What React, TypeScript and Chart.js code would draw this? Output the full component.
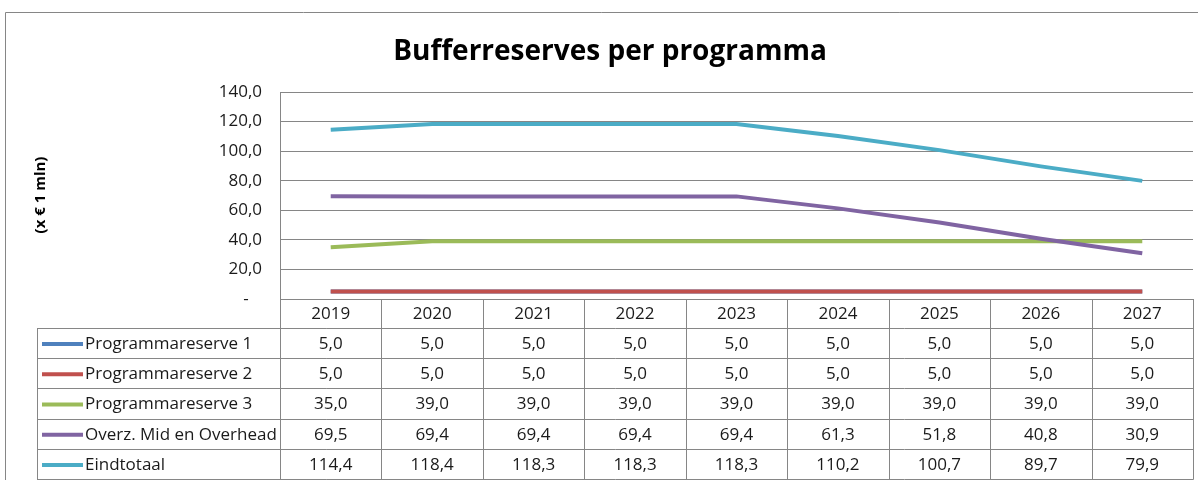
import React, { useEffect, useRef } from "react";
import { Chart, registerables } from "chart.js";

Chart.register(...registerables);

const categories = ["2019", "2020", "2021", "2022", "2023", "2024", "2025", "2026", "2027"];
const programmareserve1 = [5.0, 5.0, 5.0, 5.0, 5.0, 5.0, 5.0, 5.0, 5.0];
const programmareserve2 = [5.0, 5.0, 5.0, 5.0, 5.0, 5.0, 5.0, 5.0, 5.0];
const programmareserve3 = [35.0, 39.0, 39.0, 39.0, 39.0, 39.0, 39.0, 39.0, 39.0];
const overzMidOverhead = [69.5, 69.4, 69.4, 69.4, 69.4, 61.3, 51.8, 40.8, 30.9];
const eindtotaal = [114.4, 118.4, 118.3, 118.3, 118.3, 110.2, 100.7, 89.7, 79.9];

const seriesNames = [
  "Programmareserve 1",
  "Programmareserve 2",
  "Programmareserve 3",
  "Overz. Mid en Overhead",
  "Eindtotaal",
];
const seriesValues = [programmareserve1, programmareserve2, programmareserve3, overzMidOverhead, eindtotaal];
const seriesColors = ["#4F81BD", "#C0504D", "#9BBB59", "#8064A2", "#4BACC6"];

const yMin = 0;
const yMax = 140;
const yStep = 20;

const titleText = "Bufferreserves per programma";
const yAxisTitle = "(x € 1 mln)";

const FONT = "'Open Sans', 'Noto Sans', sans-serif";
const GRID = "#868686";
const TEXT = "#1a1a1a";

const fmt = (v: number) => v.toFixed(1).replace(".", ",");

const decorPlugin = {
  id: "decor",
  afterDraw(chart: any) {
    const { ctx, chartArea, scales } = chart;
    const xs = scales.x;
    const left = chartArea.left;
    const right = chartArea.right;
    const bottom = chartArea.bottom;
    const tableLeft = 37;
    const headerBottom = bottom + 29;
    const tableBottom = 479;
    const rowH = (tableBottom - headerBottom) / seriesNames.length;
    const a = (v: number) => Math.round(v) + 0.5;

    ctx.save();
    // outer frame
    ctx.strokeStyle = GRID;
    ctx.lineWidth = 1;
    ctx.beginPath();
    ctx.moveTo(5.5, 480);
    ctx.lineTo(5.5, 12.5);
    ctx.lineTo(1198, 12.5);
    ctx.stroke();

    // title
    ctx.fillStyle = "#000";
    ctx.font = `bold 28px ${FONT}`;
    ctx.textAlign = "center";
    ctx.textBaseline = "alphabetic";
    ctx.fillText(titleText, 610, 60);

    // y-axis title
    ctx.save();
    ctx.translate(41, 195);
    ctx.rotate(-Math.PI / 2);
    ctx.font = `bold 15px ${FONT}`;
    ctx.textAlign = "center";
    ctx.textBaseline = "middle";
    ctx.fillText(yAxisTitle, 0, 0);
    ctx.restore();

    // column boundaries
    const n = categories.length;
    const bounds: number[] = [left];
    for (let i = 1; i < n; i++) {
      bounds.push((xs.getPixelForValue(i - 1) + xs.getPixelForValue(i)) / 2);
    }
    bounds.push(right);

    ctx.strokeStyle = GRID;
    ctx.lineWidth = 1;
    ctx.beginPath();
    bounds.forEach((bx) => {
      ctx.moveTo(a(bx), bottom);
      ctx.lineTo(a(bx), tableBottom + 0.5);
    });
    for (let r = 0; r <= seriesNames.length; r++) {
      const y = a(headerBottom + r * rowH);
      ctx.moveTo(tableLeft, y);
      ctx.lineTo(a(right), y);
    }
    ctx.moveTo(a(tableLeft), a(headerBottom));
    ctx.lineTo(a(tableLeft), tableBottom + 0.5);
    ctx.stroke();

    // header
    ctx.fillStyle = TEXT;
    ctx.font = `17px ${FONT}`;
    ctx.textAlign = "center";
    ctx.textBaseline = "middle";
    categories.forEach((c, i) => {
      ctx.fillText(c, xs.getPixelForValue(i), (bottom + headerBottom) / 2 + 1);
    });

    // rows
    seriesNames.forEach((name, r) => {
      const cy = headerBottom + (r + 0.5) * rowH + 1;
      ctx.strokeStyle = seriesColors[r];
      ctx.lineWidth = 4;
      ctx.beginPath();
      ctx.moveTo(42, cy);
      ctx.lineTo(83, cy);
      ctx.stroke();
      ctx.fillStyle = TEXT;
      ctx.textAlign = "left";
      ctx.fillText(name, 85, cy);
      ctx.textAlign = "center";
      seriesValues[r].forEach((v, i) => {
        ctx.fillText(fmt(v), xs.getPixelForValue(i), cy);
      });
    });
    ctx.restore();
  },
};

export default function App() {
  const ref = useRef<HTMLCanvasElement | null>(null);

  useEffect(() => {
    if (!ref.current) return;
    const chart = new Chart(ref.current, {
      type: "line",
      data: {
        labels: categories,
        datasets: seriesNames.map((name, i) => ({
          label: name,
          data: seriesValues[i],
          borderColor: seriesColors[i],
          backgroundColor: seriesColors[i],
          borderWidth: 4,
          pointRadius: 0,
          pointHoverRadius: 0,
          tension: 0,
          fill: false,
          order: seriesNames.length - i,
        })),
      },
      options: {
        responsive: false,
        animation: false,
        events: [],
        layout: { padding: { left: 0, top: 92, right: 5, bottom: 181 } },
        plugins: {
          legend: { display: false },
          title: { display: false },
          tooltip: { enabled: false },
        },
        scales: {
          x: {
            type: "category",
            display: false,
            offset: true,
          },
          y: {
            min: yMin,
            max: yMax,
            ticks: {
              stepSize: yStep,
              padding: 18,
              color: TEXT,
              font: { family: FONT, size: 17 },
              callback: (v: any) => (Number(v) === 0 ? "-   " : fmt(Number(v))),
            },
            grid: { color: GRID, lineWidth: 1, drawTicks: false },
            border: { display: true, color: GRID, width: 1 },
            afterFit: (scale: any) => {
              scale.width = 280;
            },
          },
        },
      },
      plugins: [decorPlugin],
    });
    return () => chart.destroy();
  }, []);

  return (
    <div style={{ position: "absolute", left: 0, top: 0, width: 1198, height: 480, background: "#fff" }}>
      <canvas ref={ref} width={1198} height={480} style={{ display: "block" }} />
    </div>
  );
}
